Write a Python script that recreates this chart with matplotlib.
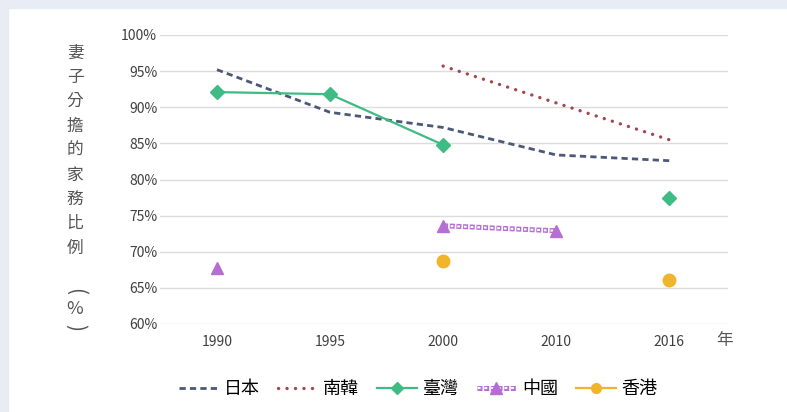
import matplotlib.pyplot as plt
import numpy as np
from matplotlib.legend_handler import HandlerTuple
from matplotlib.lines import Line2D
from matplotlib.patches import Rectangle

plt.rcParams['font.family'] = ['Noto Sans CJK TC', 'DejaVu Sans']
plt.rcParams['lines.scale_dashes'] = False

years = ['1990', '1995', '2000', '2010', '2016']
japan = [95.2, 89.3, 87.2, 83.4, 82.6]
korea = [np.nan, np.nan, 95.7, 90.6, 85.5]
taiwan = [92.1, 91.8, 84.8, np.nan, 77.4]
china = [67.8, np.nan, 73.6, 72.9, np.nan]
hongkong = [np.nan, np.nan, 68.7, np.nan, 66.1]
yticks = [60, 65, 70, 75, 80, 85, 90, 95, 100]
ylabel_chars = ['妻', '子', '分', '擔', '的', '家', '務', '比', '例']

c_japan = '#4b5877'
c_korea = '#a3484b'
c_taiwan = '#3fbb84'
c_china = '#b56fd2'
c_hk = '#f0b52a'

# styles
jp_style = dict(color=c_japan, lw=2, dashes=(4.5, 3))
kr_style = dict(color=c_korea, lw=2.4, linestyle=(0, (0.1, 6)), dash_capstyle='round')
cn_outer = dict(color=c_china, lw=3.6, linestyle=(0, (3.6, 1.2)), dash_capstyle='butt')
cn_inner = dict(color='white', lw=1.5, linestyle=(4.2, (2.0, 2.8)), dash_capstyle='butt')

fig = plt.figure(figsize=(7.87, 4.12), dpi=100)
fig.patch.set_facecolor('white')
# light frame at top and left
fig.patches.append(Rectangle((0, 1 - 8 / 412), 1, 8 / 412, transform=fig.transFigure,
                             color='#e8ecf5', zorder=0))
fig.patches.append(Rectangle((0, 0), 8 / 787, 1, transform=fig.transFigure,
                             color='#e8ecf5', zorder=0))

ax = fig.add_axes([160 / 787, 1 - 324 / 412, 568 / 787, 289 / 412])
x = np.arange(len(years))

ax.plot(x, japan, zorder=3, **jp_style)
ax.plot(x, korea, zorder=3, **kr_style)
ax.plot(x, taiwan, color=c_taiwan, lw=1.6, marker='D', ms=7, zorder=4)

# China: chain-like line between points
cx = x[2:4]
cy = china[2:4]
ax.plot(cx, cy, zorder=3, **cn_outer)
ax.plot(cx, cy, zorder=3, **cn_inner)
ax.plot(x, china, color=c_china, lw=0, marker='^', ms=9, zorder=4)

ax.plot(x, hongkong, color=c_hk, lw=0, marker='o', ms=9, zorder=4)

ax.set_xlim(-0.504, 4.52)
ax.set_ylim(60, 100)
ax.set_yticks(yticks)
ax.set_yticklabels([f'{v}%' for v in yticks])
ax.set_xticks(x)
ax.set_xticklabels(years)
ax.grid(axis='y', color='#dcdcdc', lw=1)
ax.set_axisbelow(True)
for s in ax.spines.values():
    s.set_visible(False)
ax.tick_params(length=0, labelsize=10, colors='#404040')
ax.tick_params(axis='y', pad=2)
ax.tick_params(axis='x', pad=8)

# vertical y label
for i, ch in enumerate(ylabel_chars):
    fig.text(75 / 787, 1 - (53 + i * 24.4) / 412, ch, ha='center', va='center',
             fontsize=12, color='#555555')
fig.text(75 / 787, 1 - 292 / 412, '(', ha='center', va='center', rotation=-90,
         fontsize=15, color='#555555')
fig.text(75 / 787, 1 - 309 / 412, '%', ha='center', va='center',
         fontsize=13, color='#555555')
fig.text(75 / 787, 1 - 327 / 412, ')', ha='center', va='center', rotation=-90,
         fontsize=15, color='#555555')
fig.text(725 / 787, 1 - 341 / 412, '年', ha='center', va='center',
         fontsize=12, color='#555555')

h_japan = Line2D([], [], **jp_style)
h_korea = Line2D([], [], **kr_style)
h_taiwan = Line2D([], [], color=c_taiwan, lw=1.6, marker='D', ms=6)
h_china = (Line2D([], [], **cn_outer),
           Line2D([], [], **cn_inner),
           Line2D([], [], color=c_china, lw=0, marker='^', ms=8))
h_hk = Line2D([], [], color=c_hk, lw=1.6, marker='o', ms=7)

fig.legend([h_japan, h_korea, h_taiwan, h_china, h_hk],
           ['日本', '南韓', '臺灣', '中國', '香港'],
           handler_map={tuple: HandlerTuple(ndivide=1, pad=0)},
           loc='center', bbox_to_anchor=(418 / 787, 1 - 389 / 412),
           ncol=5, frameon=False, fontsize=13, handlelength=2.2,
           columnspacing=1.0, handletextpad=0.3)

fig.savefig('out.png', dpi=100)
